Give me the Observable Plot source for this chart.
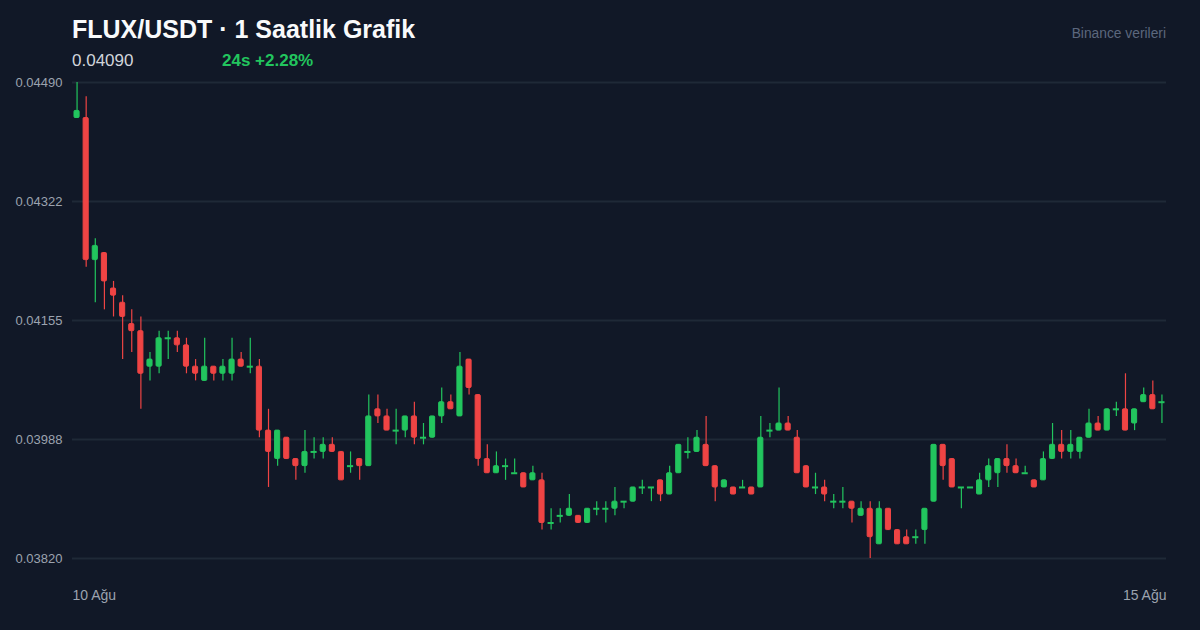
<!DOCTYPE html>
<html><head><meta charset="utf-8">
<script src="https://cdn.jsdelivr.net/npm/d3@7"></script>
<script src="https://cdn.jsdelivr.net/npm/@observablehq/plot@0.6"></script>
<style>
html,body{margin:0;padding:0;background:#111827;width:1200px;height:630px;overflow:hidden;font-family:"Liberation Sans",Arial,sans-serif;}
#wrap{position:relative;width:1200px;height:630px;}
#header{position:relative;width:1200px;height:70px;}
.title{position:absolute;left:72px;top:16.8px;font-size:25px;font-weight:700;color:#f9fafb;line-height:1;white-space:nowrap;}
.price{position:absolute;left:72px;top:52px;font-size:17px;color:#d1d5db;line-height:1;}
.change{position:absolute;left:222px;top:52px;font-size:17px;font-weight:700;color:#22c55e;line-height:1;}
.source{position:absolute;right:34px;top:27px;font-size:13.8px;color:#5c677d;line-height:1;}
#chart svg{display:block;}
</style>
</head><body>
<div id="wrap">
  <div id="header">
    <div class="title">FLUX/USDT · 1 Saatlik Grafik</div>
    <div class="price">0.04090</div>
    <div class="change">24s +2.28%</div>
    <div class="source">Binance verileri</div>
  </div>
  <div id="chart"></div>
</div>
<script>
// hourly candles, 10 Ağu -> 15 Ağu
const opens = [0.0444,0.0444,0.0424,0.0425,0.0420,0.0418,0.0415,0.0414,0.0409,0.0409,
0.0413,0.0413,0.0412,0.0409,0.0407,0.0409,0.0408,0.0408,0.0410,0.0409,
0.0409,0.0400,0.0396,0.0399,0.0396,0.0395,0.0397,0.0397,0.0398,0.0397,
0.0395,0.0396,0.0395,0.0403,0.0402,0.0400,0.0400,0.0402,0.0399,0.0399,
0.0402,0.0404,0.0402,0.0410,0.0405,0.0396,0.0394,0.0395,0.0394,0.0394,
0.0393,0.0393,0.0387,0.0388,0.0388,0.0388,0.0387,0.0389,0.0389,0.0389,
0.0390,0.0390,0.0392,0.0392,0.0393,0.0391,0.0394,0.0397,0.0397,0.0398,
0.0395,0.0392,0.0392,0.0392,0.0392,0.0392,0.0400,0.0400,0.0401,0.0399,
0.0395,0.0392,0.0392,0.0390,0.0390,0.0390,0.0388,0.0389,0.0384,0.0389,
0.0386,0.0385,0.0385,0.0386,0.0390,0.0398,0.0396,0.0392,0.0392,0.0391,
0.0393,0.0394,0.0396,0.0395,0.0394,0.0393,0.0393,0.0396,0.0398,0.0397,
0.0397,0.0399,0.0401,0.0400,0.0403,0.0403,0.0401,0.0404,0.0405,0.0404];
const highs = [0.0449,0.0447,0.0427,0.0425,0.0421,0.0419,0.0417,0.0416,0.0411,0.0414,
0.0414,0.0414,0.0413,0.0410,0.0413,0.0409,0.0410,0.0413,0.0411,0.0413,
0.0410,0.0403,0.0400,0.0399,0.0396,0.0400,0.0399,0.0399,0.0399,0.0397,
0.0397,0.0396,0.0405,0.0405,0.0403,0.0403,0.0402,0.0404,0.0401,0.0402,
0.0406,0.0405,0.0411,0.0410,0.0405,0.0398,0.0397,0.0396,0.0396,0.0394,
0.0395,0.0394,0.0389,0.0389,0.0391,0.0388,0.0389,0.0390,0.0390,0.0392,
0.0390,0.0392,0.0393,0.0392,0.0393,0.0395,0.0398,0.0399,0.0400,0.0402,
0.0395,0.0393,0.0392,0.0393,0.0392,0.0402,0.0401,0.0406,0.0402,0.0400,
0.0395,0.0394,0.0393,0.0391,0.0392,0.0390,0.0390,0.0390,0.0390,0.0389,
0.0386,0.0386,0.0386,0.0389,0.0398,0.0398,0.0396,0.0392,0.0392,0.0394,
0.0396,0.0396,0.0398,0.0396,0.0395,0.0393,0.0397,0.0401,0.0400,0.0400,
0.0399,0.0403,0.0402,0.0403,0.0404,0.0408,0.0403,0.0406,0.0407,0.0405];
const lows = [0.0444,0.0423,0.0418,0.0417,0.0416,0.0410,0.0411,0.0403,0.0407,0.0408,
0.0410,0.0411,0.0408,0.0407,0.0407,0.0407,0.0407,0.0407,0.0409,0.0408,
0.0399,0.0392,0.0395,0.0396,0.0393,0.0394,0.0396,0.0396,0.0397,0.0393,
0.0394,0.0393,0.0395,0.0401,0.0400,0.0398,0.0399,0.0398,0.0398,0.0399,
0.0401,0.0403,0.0402,0.0405,0.0395,0.0394,0.0394,0.0393,0.0394,0.0392,
0.0393,0.0386,0.0386,0.0387,0.0388,0.0387,0.0387,0.0388,0.0387,0.0388,
0.0389,0.0390,0.0391,0.0390,0.0390,0.0391,0.0394,0.0396,0.0397,0.0395,
0.0390,0.0392,0.0391,0.0392,0.0391,0.0392,0.0399,0.0400,0.0400,0.0394,
0.0392,0.0391,0.0390,0.0389,0.0389,0.0387,0.0388,0.0382,0.0384,0.0386,
0.0384,0.0384,0.0384,0.0384,0.0390,0.0393,0.0392,0.0389,0.0392,0.0391,
0.0392,0.0392,0.0394,0.0394,0.0394,0.0392,0.0393,0.0396,0.0396,0.0396,
0.0396,0.0399,0.0400,0.0400,0.0402,0.0400,0.0400,0.0404,0.0403,0.0401];
const closes = [0.0445,0.0424,0.0426,0.0421,0.0419,0.0416,0.0414,0.0408,0.0410,0.0413,
0.0413,0.0412,0.0409,0.0408,0.0409,0.0408,0.0409,0.0410,0.0409,0.0409,
0.0400,0.0397,0.0400,0.0396,0.0395,0.0397,0.0397,0.0398,0.0397,0.0393,
0.0395,0.0395,0.0402,0.0402,0.0400,0.0400,0.0402,0.0399,0.0399,0.0402,
0.0404,0.0403,0.0409,0.0406,0.0396,0.0394,0.0395,0.0395,0.0394,0.0392,
0.0394,0.0387,0.0387,0.0388,0.0389,0.0387,0.0389,0.0389,0.0389,0.0390,
0.0390,0.0392,0.0392,0.0392,0.0391,0.0394,0.0398,0.0397,0.0399,0.0395,
0.0392,0.0393,0.0391,0.0392,0.0391,0.0399,0.0400,0.0401,0.0400,0.0394,
0.0392,0.0392,0.0391,0.0390,0.0390,0.0389,0.0389,0.0385,0.0389,0.0386,
0.0384,0.0384,0.0385,0.0389,0.0398,0.0395,0.0392,0.0392,0.0392,0.0393,
0.0395,0.0396,0.0395,0.0394,0.0394,0.0392,0.0396,0.0398,0.0397,0.0398,
0.0399,0.0401,0.0400,0.0403,0.0403,0.0400,0.0403,0.0405,0.0403,0.0404];

const yTicks = [0.04490, 0.043225, 0.04155, 0.039875, 0.03820];
const yTickLabels = ["0.04490", "0.04322", "0.04155", "0.03988", "0.03820"];
const xLabels = ["10 Ağu", "15 Ağu"];
const upColor = "#22c55e";
const downColor = "#ef4444";

const candles = opens.map((o, i) => ({
  i, open: o, high: highs[i], low: lows[i], close: closes[i],
  up: closes[i] >= o
}));
const bodies = candles.filter(d => d.open !== d.close);
const dojis = candles.filter(d => d.open === d.close);
const col = d => d.up ? upColor : downColor;

const chart = Plot.plot({
  width: 1200,
  height: 560,
  marginTop: 12,
  marginBottom: 72,
  marginLeft: 72,
  marginRight: 34,
  style: {background: "#111827", color: "#9ca3af", fontFamily: "'Liberation Sans', Arial, sans-serif", overflow: "visible"},
  x: {type: "band", domain: d3.range(candles.length), padding: 0, round: false, axis: null},
  y: {domain: [0.03820, 0.04490], axis: null},
  marks: [
    Plot.gridY(yTicks, {stroke: "#1f2937", strokeOpacity: 1, strokeWidth: 2}),
    Plot.axisY(yTicks, {tickSize: 0, tickPadding: 10, fontSize: 13, fill: "#9ca3af",
      tickFormat: (d) => yTickLabels[yTicks.indexOf(d)]}),
    Plot.ruleX(candles, {x: "i", y1: "low", y2: "high", stroke: col, strokeWidth: 1.2}),
    Plot.barY(bodies, {x: "i", y1: "open", y2: "close", fill: col, stroke: col, strokeWidth: 1,
      insetLeft: 2, insetRight: 2, rx: 1}),
    Plot.tickY(dojis, {x: "i", y: "open", stroke: col, strokeWidth: 2, insetLeft: 1.5, insetRight: 1.5}),
    Plot.text([xLabels[0]], {text: d => d, frameAnchor: "bottom-left", dy: 41, textAnchor: "start", fill: "#9ca3af", fontSize: 14}),
    Plot.text([xLabels[1]], {text: d => d, frameAnchor: "bottom-right", dy: 41, textAnchor: "end", fill: "#9ca3af", fontSize: 14})
  ]
});
document.getElementById("chart").appendChild(chart);
</script>
</body></html>
